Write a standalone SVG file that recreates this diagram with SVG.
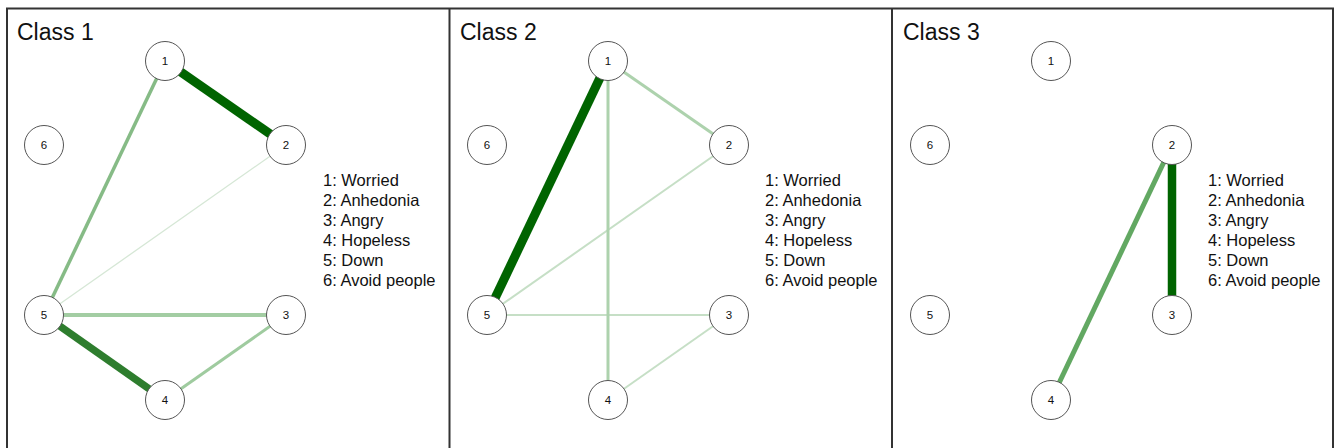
<svg xmlns="http://www.w3.org/2000/svg" width="1335" height="448" viewBox="0 0 1335 448">
<style>
.frame{fill:none;stroke:#333;stroke-width:2}
.node circle{fill:#fff;stroke:#555;stroke-width:1}
.node text{font-family:"Liberation Sans",Arial,sans-serif;font-size:11.5px;fill:#111;text-anchor:middle}
.title{font-family:"Liberation Sans",Arial,sans-serif;font-size:23px;fill:#111}
.legend{font-family:"Liberation Sans",Arial,sans-serif;font-size:16.5px;fill:#111}
.edge{stroke-linecap:butt;fill:none}
</style>
<rect width="1335" height="448" fill="#fff"/>
<rect class="frame" x="7" y="8.5" width="1326" height="450"/>
<line class="frame" x1="449.5" y1="8" x2="449.5" y2="448"/>
<line class="frame" x1="892" y1="8" x2="892" y2="448"/>

<!-- Panel 1 -->
<g id="panel1">
<text class="title" x="17" y="40">Class 1</text>
<g id="edges1">
<line class="edge" x1="44" y1="315" x2="286" y2="145" stroke="#d6e7d6" stroke-width="1.3"/>
<line class="edge" x1="165" y1="61" x2="44" y2="315" stroke="#86bb86" stroke-width="3.5"/>
<line class="edge" x1="44" y1="315" x2="286" y2="315" stroke="#a3cda3" stroke-width="4"/>
<line class="edge" x1="165" y1="400" x2="286" y2="315" stroke="#9fcb9f" stroke-width="3"/>
<line class="edge" x1="44" y1="315" x2="165" y2="400" stroke="#2e7d2e" stroke-width="7.5"/>
<line class="edge" x1="165" y1="61" x2="286" y2="145" stroke="#006400" stroke-width="9"/>
</g>
<g id="c1n1" class="node"><circle cx="165" cy="61" r="19.5"/><text x="165" y="65">1</text></g>
<g id="c1n2" class="node"><circle cx="286" cy="145" r="19.5"/><text x="286" y="149">2</text></g>
<g id="c1n3" class="node"><circle cx="286" cy="315" r="19.5"/><text x="286" y="319">3</text></g>
<g id="c1n4" class="node"><circle cx="165" cy="400" r="19.5"/><text x="165" y="404">4</text></g>
<g id="c1n5" class="node"><circle cx="44" cy="315" r="19.5"/><text x="44" y="319">5</text></g>
<g id="c1n6" class="node"><circle cx="44" cy="145" r="19.5"/><text x="44" y="149">6</text></g>
<g id="legend1" class="legend">
<text x="323" y="186">1: Worried</text>
<text x="323" y="206">2: Anhedonia</text>
<text x="323" y="226">3: Angry</text>
<text x="323" y="246">4: Hopeless</text>
<text x="323" y="266">5: Down</text>
<text x="323" y="286">6: Avoid people</text>
</g>
</g>

<!-- Panel 2 -->
<g id="panel2" transform="translate(443,0)">
<text class="title" x="17" y="40">Class 2</text>
<g id="edges2">
<line class="edge" x1="44" y1="315" x2="286" y2="145" stroke="#c6dfc6" stroke-width="2"/>
<line class="edge" x1="44" y1="315" x2="286" y2="315" stroke="#c6dfc6" stroke-width="2"/>
<line class="edge" x1="165" y1="400" x2="286" y2="315" stroke="#c6dfc6" stroke-width="2"/>
<line class="edge" x1="165" y1="61" x2="165" y2="400" stroke="#add2ad" stroke-width="3"/>
<line class="edge" x1="165" y1="61" x2="286" y2="145" stroke="#add2ad" stroke-width="3"/>
<line class="edge" x1="165" y1="61" x2="44" y2="315" stroke="#006400" stroke-width="9"/>
</g>
<g id="c2n1" class="node"><circle cx="165" cy="61" r="19.5"/><text x="165" y="65">1</text></g>
<g id="c2n2" class="node"><circle cx="286" cy="145" r="19.5"/><text x="286" y="149">2</text></g>
<g id="c2n3" class="node"><circle cx="286" cy="315" r="19.5"/><text x="286" y="319">3</text></g>
<g id="c2n4" class="node"><circle cx="165" cy="400" r="19.5"/><text x="165" y="404">4</text></g>
<g id="c2n5" class="node"><circle cx="44" cy="315" r="19.5"/><text x="44" y="319">5</text></g>
<g id="c2n6" class="node"><circle cx="44" cy="145" r="19.5"/><text x="44" y="149">6</text></g>
<g id="legend2" class="legend">
<text x="322" y="186">1: Worried</text>
<text x="322" y="206">2: Anhedonia</text>
<text x="322" y="226">3: Angry</text>
<text x="322" y="246">4: Hopeless</text>
<text x="322" y="266">5: Down</text>
<text x="322" y="286">6: Avoid people</text>
</g>
</g>

<!-- Panel 3 -->
<g id="panel3" transform="translate(886,0)">
<text class="title" x="17" y="40">Class 3</text>
<g id="edges3">
<line class="edge" x1="286" y1="145" x2="165" y2="400" stroke="#62a862" stroke-width="5"/>
<line class="edge" x1="286" y1="145" x2="286" y2="315" stroke="#006400" stroke-width="8.5"/>
</g>
<g id="c3n1" class="node"><circle cx="165" cy="61" r="19.5"/><text x="165" y="65">1</text></g>
<g id="c3n2" class="node"><circle cx="286" cy="145" r="19.5"/><text x="286" y="149">2</text></g>
<g id="c3n3" class="node"><circle cx="286" cy="315" r="19.5"/><text x="286" y="319">3</text></g>
<g id="c3n4" class="node"><circle cx="165" cy="400" r="19.5"/><text x="165" y="404">4</text></g>
<g id="c3n5" class="node"><circle cx="44" cy="315" r="19.5"/><text x="44" y="319">5</text></g>
<g id="c3n6" class="node"><circle cx="44" cy="145" r="19.5"/><text x="44" y="149">6</text></g>
<g id="legend3" class="legend">
<text x="322" y="186">1: Worried</text>
<text x="322" y="206">2: Anhedonia</text>
<text x="322" y="226">3: Angry</text>
<text x="322" y="246">4: Hopeless</text>
<text x="322" y="266">5: Down</text>
<text x="322" y="286">6: Avoid people</text>
</g>
</g>
</svg>
